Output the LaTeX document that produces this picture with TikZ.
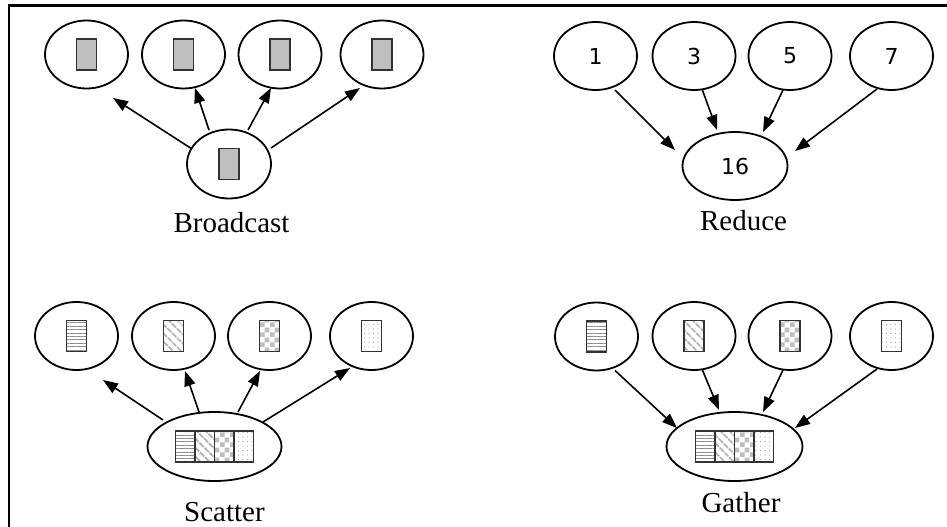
\documentclass[tikz,border=0pt]{standalone}
\usepackage{fontspec}
\setmainfont{Liberation Serif}
\newfontfamily\numfont{DejaVu Sans}
\usetikzlibrary{arrows.meta,calc,patterns.meta,shapes.geometric}

\tikzdeclarepattern{
  name=mychecker,
  type=uncolored,
  bounding box={(0pt,0pt) and (10pt,10pt)},
  tile size={(10pt,10pt)},
  code={
    \pgfpathrectangle{\pgfpointorigin}{\pgfqpoint{5pt}{5pt}}
    \pgfpathrectangle{\pgfqpoint{5pt}{5pt}}{\pgfqpoint{5pt}{5pt}}
    \pgfusepath{fill}
  }
}

\tikzset{
  proc/.style={ellipse, draw, line width=1.8pt, minimum width=83pt, minimum height=68pt, inner sep=0pt},
  cellbox/.style={rectangle, draw=black!80, line width=1.8pt, minimum width=20pt, minimum height=31pt, inner sep=0pt},
  stripcell/.style={cellbox, minimum width=19.5pt},
  solidfill/.style={fill=gray!50},
  hlines/.style={pattern={Lines[angle=0,distance=3.4pt,line width=1pt]}, pattern color=black!45},
  dlines/.style={pattern={Lines[angle=-45,distance=6.5pt,line width=2pt]}, pattern color=black!30},
  checks/.style={pattern=mychecker, pattern color=black!25},
  dotty/.style={pattern={Dots[distance=4.5pt,radius=0.55pt]}, pattern color=black!35},
  arr/.style={line width=1.6pt, -{Triangle[length=15pt,width=11pt]}},
  lbl/.style={anchor=base, inner sep=0pt, font=\fontsize{29}{34}\selectfont},
  num/.style={font=\numfont\fontsize{22}{26}\selectfont},
}

\begin{document}
\begin{tikzpicture}[x=1pt,y=-1pt]
\useasboundingbox (0,0) rectangle (947,527);
\draw[line width=2.4pt] (9,527) -- (9,5.5) -- (947,5.5);

% ---------------- Broadcast ----------------
\node[proc] (bt1) at (86.5,54.5) {};
\node[proc] (bt2) at (183.5,54.5) {};
\node[proc] (bt3) at (280,54.5) {};
\node[proc] (bt4) at (382,54.5) {};
\node[proc, minimum width=84pt, minimum height=69pt] (bb) at (229,164) {};
\node[cellbox, solidfill] (bc1) at (bt1) {};
\node[cellbox, solidfill] (bc2) at (bt2) {};
\node[cellbox, solidfill] (bc3) at (bt3) {};
\node[cellbox, solidfill] (bc4) at (bt4) {};
\node[cellbox, solidfill] (bc0) at (bb) {};
\draw[arr] ($(bb)+(-37,-15)$) -- ($(bt1)+(26.5,43.5)$);
\draw[arr] ($(bb)+(-20,-34)$) -- ($(bt2)+(11.5,33.5)$);
\draw[arr] ($(bb)+(19,-34)$) -- ($(bt3)+(-9,33.5)$);
\draw[arr] ($(bb)+(42,-16)$) -- ($(bt4)+(-22,33.5)$);
\node[lbl] (lbb) at (231.5,232) {Broadcast};

% ---------------- Reduce ----------------
\node[proc, num] (r1) at (595.5,56) {1};
\node[proc, num] (r3) at (694,56) {3};
\node[proc, num] (r5) at (790,56) {5};
\node[proc, num] (r7) at (891.5,56) {7};
\node[proc, num, minimum width=105pt] (rc) at (735,166) {16};
\draw[arr] ($(r1)+(19.5,34)$) -- ($(rc)+(-60,-16)$);
\draw[arr] ($(r3)+(8,33)$) -- ($(rc)+(-18,-36)$);
\draw[arr] ($(r5)+(-7,34)$) -- ($(rc)+(28,-34)$);
\draw[arr] ($(r7)+(-14.5,33)$) -- ($(rc)+(60,-15)$);
\node[lbl] (lbr) at (743.5,230) {Reduce};

% ---------------- Scatter ----------------
\node[proc] (s1) at (76.5,336) {};
\node[proc] (s2) at (173.5,336) {};
\node[proc] (s3) at (269.5,336) {};
\node[proc] (s4) at (371.5,336) {};
\node[proc, minimum width=134pt, minimum height=69pt] (sb) at (214.5,446.5) {};
\node[cellbox, hlines] (sc1) at (s1) {};
\node[cellbox, dlines] (sc2) at (s2) {};
\node[cellbox, checks] (sc3) at (s3) {};
\node[cellbox, dotty] (sc4) at (s4) {};
\node[stripcell, hlines] (ss1) at ($(sb)+(-29.25,0)$) {};
\node[stripcell, dlines] (ss2) at ($(sb)+(-9.75,0)$) {};
\node[stripcell, checks] (ss3) at ($(sb)+(9.75,0)$) {};
\node[stripcell, dotty] (ss4) at ($(sb)+(29.25,0)$) {};
\draw[arr] ($(sb)+(-51.5,-26.5)$) -- ($(s1)+(26.5,44)$);
\draw[arr] ($(sb)+(-15.5,-34.5)$) -- ($(s2)+(11.5,35)$);
\draw[arr] ($(sb)+(23.5,-34.5)$) -- ($(s3)+(-9.5,35)$);
\draw[arr] ($(sb)+(48.5,-24.5)$) -- ($(s4)+(-21.5,32)$);
\node[lbl] (lbs) at (224.5,521) {Scatter};

% ---------------- Gather ----------------
\node[proc] (g1) at (596.5,336.5) {};
\node[proc] (g2) at (694,336) {};
\node[proc] (g3) at (790,336) {};
\node[proc] (g4) at (891.5,336) {};
\node[proc, minimum width=136pt, minimum height=69pt] (gb) at (734.5,446.5) {};
\node[cellbox, hlines] (gc1) at (g1) {};
\node[cellbox, dlines] (gc2) at (g2) {};
\node[cellbox, checks] (gc3) at (g3) {};
\node[cellbox, dotty] (gc4) at (g4) {};
\node[stripcell, hlines] (gs1) at ($(gb)+(-29.25,0)$) {};
\node[stripcell, dlines] (gs2) at ($(gb)+(-9.75,0)$) {};
\node[stripcell, checks] (gs3) at ($(gb)+(9.75,0)$) {};
\node[stripcell, dotty] (gs4) at ($(gb)+(29.25,0)$) {};
\draw[arr] ($(g1)+(18.5,34)$) -- ($(gb)+(-57.5,-18.5)$);
\draw[arr] ($(g2)+(8,33)$) -- ($(gb)+(-15.5,-36.5)$);
\draw[arr] ($(g3)+(-7,34)$) -- ($(gb)+(28.5,-34.5)$);
\draw[arr] ($(g4)+(-14.5,33)$) -- ($(gb)+(60.5,-18.5)$);
\node[lbl] (lbg) at (741,512) {Gather};
\end{tikzpicture}
\end{document}
